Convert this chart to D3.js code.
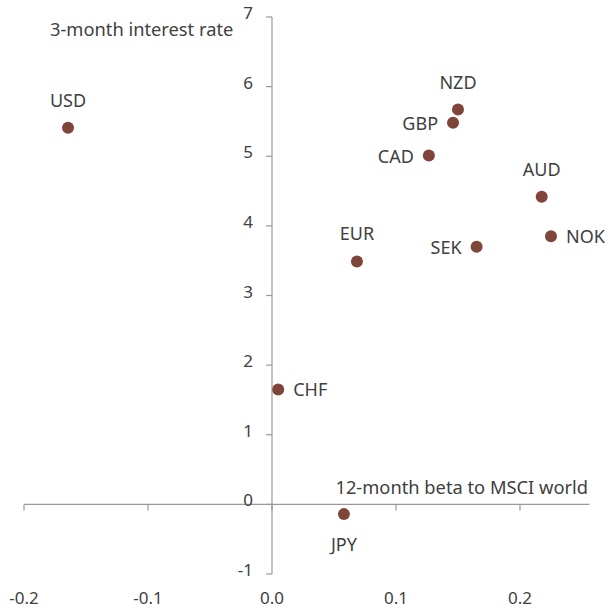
<!DOCTYPE html>
<html><head><meta charset="utf-8">
<script src="https://cdn.jsdelivr.net/npm/d3@7"></script>
<style>body{margin:0;background:#fff}svg{display:block}text{font-family:"Noto Sans",sans-serif;fill:#404040}</style>
</head><body><svg width="611" height="611"></svg>
<script>
const currencies = ["USD","NZD","GBP","CAD","AUD","NOK","SEK","EUR","CHF","JPY"];
const beta = [-0.1645,0.150,0.146,0.1265,0.2175,0.225,0.165,0.0685,0.005,0.058];
const rate = [5.41,5.67,5.48,5.01,4.42,3.85,3.70,3.49,1.65,-0.14];
const labelPos = ["top","top","left","left","top","right","left","top","right","bottom"];
const xTicks = [-0.2,-0.1,0.0,0.1,0.2];
const yTicks = [-1,0,1,2,3,4,5,6,7];
const xTitle = "12-month beta to MSCI world";
const yTitle = "3-month interest rate";

const svg = d3.select("svg");
const x = d3.scaleLinear().domain([-0.2,0.2]).range([24,520]);
const y = d3.scaleLinear().domain([-1,7]).range([574,17]);
const axisColor = "#9a9a9a";

const gx = svg.append("g").attr("transform",`translate(0,${y(0)})`);
gx.append("line").attr("x1",x(-0.2)).attr("x2",x(0.256)).attr("stroke",axisColor).attr("stroke-width",1.2);
gx.selectAll(".t").data(xTicks).join("line").attr("x1",d=>x(d)).attr("x2",d=>x(d)).attr("y1",0).attr("y2",6).attr("stroke",axisColor).attr("stroke-width",1.2);
svg.selectAll(".xl").data(xTicks).join("text").attr("x",d=>x(d)).attr("y",604).attr("text-anchor","middle").attr("font-size",17)
  .text(d=>d3.format(".1f")(d).replace("\u2212","-"));

const gy = svg.append("g").attr("transform",`translate(${x(0)},0)`);
gy.append("line").attr("y1",y(7)).attr("y2",y(-1)).attr("stroke",axisColor).attr("stroke-width",1.2);
gy.selectAll(".t").data(yTicks).join("line").attr("x1",-6).attr("x2",0).attr("y1",d=>y(d)).attr("y2",d=>y(d)).attr("stroke",axisColor).attr("stroke-width",1.2);
svg.selectAll(".yl").data(yTicks).join("text").attr("x",x(0)-19).attr("y",d=>y(d)+2).attr("text-anchor","end").attr("font-size",17).text(d=>d);

svg.append("text").attr("x",50).attr("y",36).attr("font-size",18.3).text(yTitle);
svg.append("text").attr("x",588).attr("y",494).attr("text-anchor","end").attr("font-size",18.3).text(xTitle);

const data = currencies.map((c,i)=>({c,b:beta[i],r:rate[i],p:labelPos[i]}));
svg.selectAll("circle").data(data).join("circle").attr("cx",d=>x(d.b)).attr("cy",d=>y(d.r)).attr("r",6).attr("fill","#7f443a");
svg.selectAll(".lab").data(data).join("text").attr("font-size",18)
  .attr("x",d=>d.p==="left"?x(d.b)-15:d.p==="right"?x(d.b)+15:x(d.b))
  .attr("y",d=>d.p==="top"?y(d.r)-21:d.p==="bottom"?y(d.r)+37:y(d.r)+7)
  .attr("text-anchor",d=>d.p==="left"?"end":d.p==="right"?"start":"middle")
  .text(d=>d.c);
</script></body></html>
